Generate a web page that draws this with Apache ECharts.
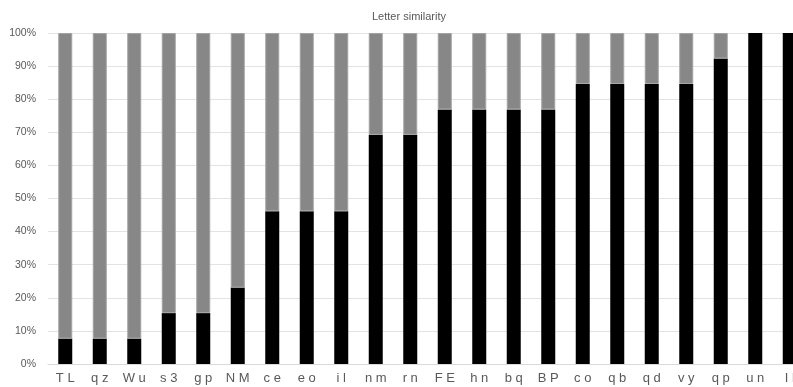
<!DOCTYPE html>
<html><head><meta charset="utf-8">
<script src="https://cdn.jsdelivr.net/npm/echarts@6/dist/echarts.min.js"></script>
<style>html,body{margin:0;padding:0;background:#fff}#c{width:793px;height:387px}</style>
</head><body><div id="c"></div>
<script>
const categories = ["T L","q z","W u","s 3","g p","N M","c e","e o","i l","n m","r n","F E","h n","b q","B P","c o","q b","q d","v y","q p","u n","I l"];
const similar = [7.69,7.69,7.69,15.38,15.38,23.08,46.15,46.15,46.15,69.23,69.23,76.92,76.92,76.92,76.92,84.62,84.62,84.62,84.62,92.31,100,100];
const different = [92.31,92.31,92.31,84.62,84.62,76.92,53.85,53.85,53.85,30.77,30.77,23.08,23.08,23.08,23.08,15.38,15.38,15.38,15.38,7.69,0,0];
const yTicks = [0,10,20,30,40,50,60,70,80,90,100];

const chart = echarts.init(document.getElementById('c'));
chart.setOption({
  animation: false,
  backgroundColor: '#fff',
  title: {
    text: 'Letter similarity', left: 367, top: 6,
    textStyle: {fontFamily: 'Liberation Sans', fontSize: 11, fontWeight: 'normal', color: '#595959'}
  },
  grid: {left: 48, top: 33, bottom: 23, width: 759, containLabel: false, outerBoundsMode: 'none'},
  xAxis: {
    type: 'category', data: categories,
    axisTick: {show: false},
    axisLine: {lineStyle: {color: '#d9d9d9'}},
    axisLabel: {interval: 0, color: '#595959', fontFamily: 'Liberation Sans', fontSize: 13, margin: 8}
  },
  yAxis: {
    type: 'value', min: 0, max: 100, interval: 10,
    axisLabel: {formatter: v => yTicks.includes(v) ? v + '%' : '', color: '#595959', fontFamily: 'Liberation Sans', fontSize: 10.5, margin: 12},
    splitLine: {lineStyle: {color: '#e3e3e3'}},
    axisLine: {show: false}, axisTick: {show: false}
  },
  series: [
    {name: 'similar', type: 'bar', stack: 's', data: similar, barWidth: 14,
     itemStyle: {color: '#000000'}},
    {name: 'different', type: 'bar', stack: 's', data: different.map(v => v === 0 ? null : v), barWidth: 14,
     itemStyle: {color: '#878787', borderColor: '#a3a3a3', borderWidth: 1}}
  ]
});
</script></body></html>
